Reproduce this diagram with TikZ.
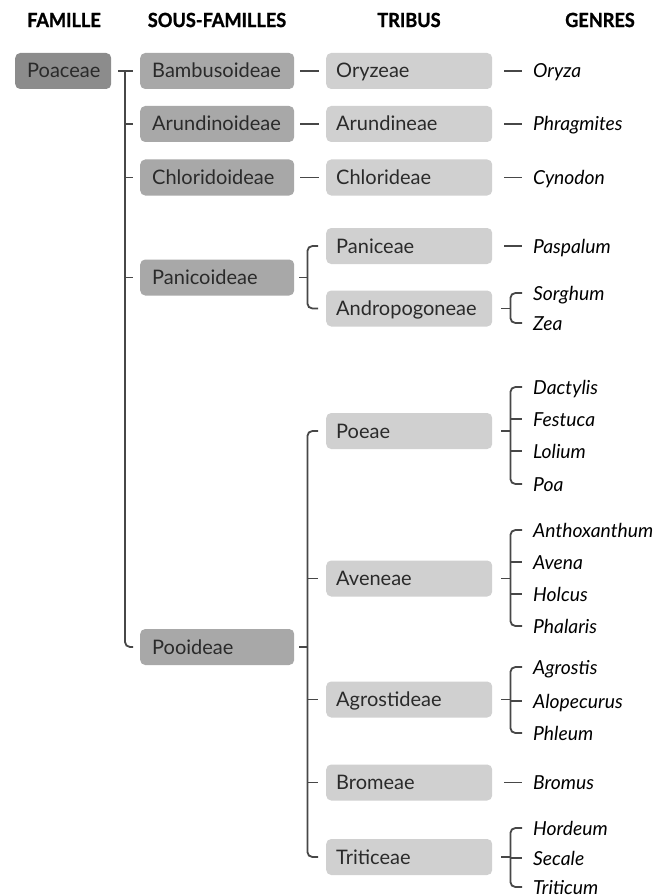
\documentclass[tikz,border=0pt]{standalone}
\usepackage{fontspec}
\setmainfont{Lato}
\newfontfamily\headfont[FakeStretch=0.93, BoldFeatures={FakeBold=1.2}]{Lato}
\definecolor{famfill}{HTML}{8C8C8C}
\definecolor{subfill}{HTML}{A8A8A8}
\definecolor{tribfill}{HTML}{D0D0D0}
\definecolor{linec}{HTML}{474747}
\definecolor{txt}{HTML}{2A2A2A}
\tikzset{
  hdr/.style={font=\headfont\bfseries\fontsize{19.5}{21}\selectfont, text=black, inner sep=0pt},
  basebox/.style={rounded corners=5pt, minimum height=36pt, align=left, anchor=west,
    text height=14pt, text depth=0pt, font=\fontsize{20}{22}\selectfont, text=txt},
  fambox/.style={basebox, fill=famfill, inner xsep=12pt, text width=72pt},
  subbox/.style={basebox, fill=subfill, inner xsep=12pt, text width=130pt},
  tribbox/.style={basebox, fill=tribfill, inner xsep=10pt, text width=146pt},
  gen/.style={anchor=west, inner sep=0pt, text height=14pt, text depth=0pt,
    font=\itshape\fontsize{19.3}{21}\selectfont, text=black},
  conn/.style={draw=linec, line width=1.8pt},
}
\begin{document}
\begin{tikzpicture}[x=1pt,y=-1pt]
\useasboundingbox (0,0) rectangle (671,896);
% headers
\node[hdr] (hF) at (64,20) {FAMILLE};
\node[hdr] (hS) at (217,20) {SOUS-FAMILLES};
\node[hdr] (hT) at (409,20) {TRIBUS};
\node[hdr] (hG) at (600,20) {GENRES};
% family
\node[fambox] (poa) at (15,71) {Poaceae};
% subfamilies
\node[subbox] (bamb) at (140,71) {Bambusoideae};
\node[subbox] (arun) at (140,124) {Arundinoideae};
\node[subbox] (chlo) at (140,177.5) {Chloridoideae};
\node[subbox] (pani) at (140,277.5) {Panicoideae};
\node[subbox] (pooi) at (140,647) {Pooideae};
% tribes
\node[tribbox] (oryz) at (326,71) {Oryzeae};
\node[tribbox] (arne) at (326,124) {Arundineae};
\node[tribbox] (chle) at (326,177.5) {Chlorideae};
\node[tribbox] (pane) at (326,246) {Paniceae};
\node[tribbox] (andr) at (326,308.5) {Andropogoneae};
\node[tribbox] (poea) at (326,431) {Poeae};
\node[tribbox] (aven) at (326,578.5) {Aveneae};
\node[tribbox] (agro) at (326,699.5) {Agrostideae};
\node[tribbox] (brom) at (326,782.5) {Bromeae};
\node[tribbox] (trit) at (326,857) {Triticeae};
% genres
\node[gen] (gOry) at (533,71) {Oryza};
\node[gen] (gPhr) at (533,124) {Phragmites};
\node[gen] (gCyn) at (533,177.5) {Cynodon};
\node[gen] (gPas) at (533,246) {Paspalum};
\node[gen] (gSor) at (533,293) {Sorghum};
\node[gen] (gZea) at (533,323) {Zea};
\node[gen] (gDac) at (533,387) {Dactylis};
\node[gen] (gFes) at (533,419) {Festuca};
\node[gen] (gLol) at (533,451) {Lolium};
\node[gen] (gPoa) at (533,484) {Poa};
\node[gen] (gAnt) at (533,530) {Anthoxanthum};
\node[gen] (gAve) at (533,562) {Avena};
\node[gen] (gHol) at (533,594) {Holcus};
\node[gen] (gPha) at (533,626) {Phalaris};
\node[gen] (gAgr) at (533,667) {Agrostis};
\node[gen] (gAlo) at (533,701) {Alopecurus};
\node[gen] (gPhl) at (533,733) {Phleum};
\node[gen] (gBro) at (533,782.5) {Bromus};
\node[gen] (gHor) at (533,828) {Hordeum};
\node[gen] (gSec) at (533,858) {Secale};
\node[gen] (gTri) at (533,887) {Triticum};
% family -> subfamilies
\draw[conn] ([xshift=7pt]poa.east) -- ([xshift=-7pt]bamb.west);
\coordinate (vx) at ([xshift=-15pt]bamb.west);
\draw[conn, rounded corners=5pt] (vx) -- (vx |- pooi.west) -- ([xshift=-7pt]pooi.west);
\foreach \n in {arun,chlo,pani} \draw[conn] (\n.west -| vx) -- ([xshift=-7pt]\n.west);
% subfamily -> tribe (single)
\draw[conn] ([xshift=6pt]bamb.east) -- ([xshift=-7pt]oryz.west);
\draw[conn] ([xshift=6pt]arun.east) -- ([xshift=-7pt]arne.west);
\draw[conn] ([xshift=6pt]chlo.east) -- ([xshift=-7pt]chle.west);
% Panicoideae bracket
\coordinate (px) at ([xshift=13pt]pani.east);
\draw[conn] ([xshift=5pt]pani.east) -- (px);
\draw[conn, rounded corners=5pt] ([xshift=-8pt]pane.west) -- (pane.west -| px) -- (andr.west -| px) -- ([xshift=-8pt]andr.west);
% Pooideae bracket
\coordinate (qx) at ([xshift=13pt]pooi.east);
\draw[conn] ([xshift=5pt]pooi.east) -- (qx);
\draw[conn, rounded corners=5pt] ([xshift=-8pt]poea.west) -- (poea.west -| qx) -- (trit.west -| qx) -- ([xshift=-8pt]trit.west);
\foreach \n in {aven,agro,brom} \draw[conn] (\n.west -| qx) -- ([xshift=-8pt]\n.west);
% tribe -> genre (single)
\draw[conn] ([xshift=12pt]oryz.east) -- ([xshift=-11pt]gOry.west);
\draw[conn] ([xshift=12pt]arne.east) -- ([xshift=-11pt]gPhr.west);
\draw[conn] ([xshift=12pt]chle.east) -- ([xshift=-11pt]gCyn.west);
\draw[conn] ([xshift=12pt]pane.east) -- ([xshift=-11pt]gPas.west);
\draw[conn] ([xshift=12pt]brom.east) -- ([xshift=-11pt]gBro.west);
% tribe -> genre brackets
\foreach \t/\a/\b/\mids in {andr/gSor/gZea/{}, poea/gDac/gPoa/{gFes,gLol}, aven/gAnt/gPha/{gAve,gHol}, agro/gAgr/gPhl/{gAlo}, trit/gHor/gTri/{gSec}}{
  \coordinate (bx) at ([xshift=18pt]\t.east);
  \draw[conn] ([xshift=9pt]\t.east) -- (bx);
  \draw[conn, rounded corners=5pt] ([xshift=-11pt]\a.west) -- (\a.west -| bx) -- (\b.west -| bx) -- ([xshift=-11pt]\b.west);
  \foreach \m in \mids {\draw[conn] (\m.west -| bx) -- ([xshift=-11pt]\m.west);}
}
\end{tikzpicture}
\end{document}
